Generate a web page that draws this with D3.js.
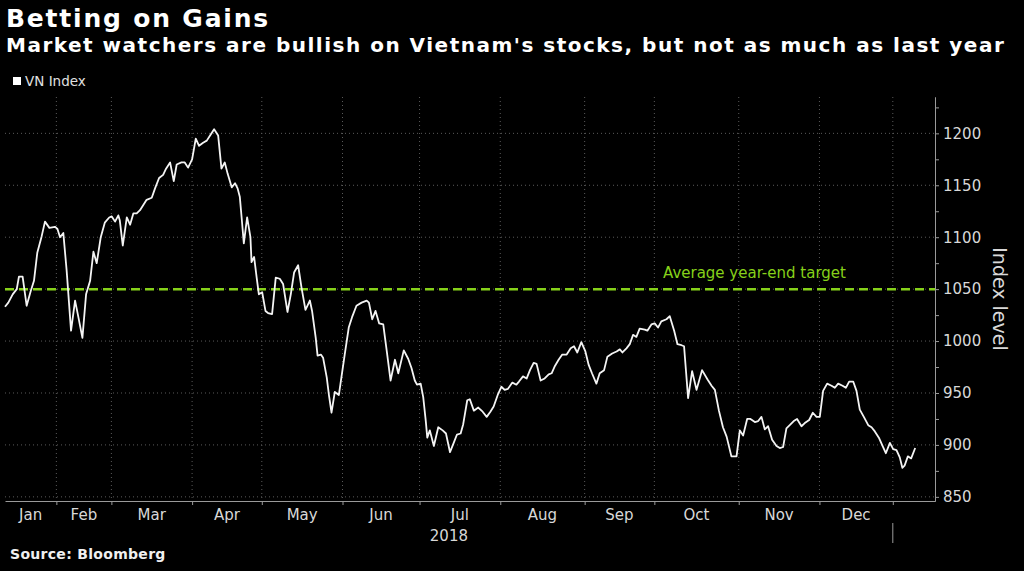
<!DOCTYPE html>
<html>
<head>
<meta charset="utf-8">
<script src="https://cdn.jsdelivr.net/npm/d3@7"></script>
<style>
  html, body { margin: 0; padding: 0; background: #000; }
  svg { display: block; font-family: "DejaVu Sans", sans-serif; }
  .axis path, .axis line { stroke: #9a9a9a; }
  .axis text { fill: #d8d8d8; }
</style>
</head>
<body>
<script>
// consts / global variables
const w = 1024;
const h = 571;

// x is in trading days since the first point (mid Jan 2018)
const monthNames = ["Jan", "Feb", "Mar", "Apr", "May", "Jun", "Jul", "Aug", "Sep", "Oct", "Nov", "Dec"];
const monthEdges = [0, 14, 29, 51, 70, 92, 113, 135, 158, 177, 200, 222, 242];
const yearLabel = "2018";

const yTicks = [850, 900, 950, 1000, 1050, 1100, 1150, 1200];
const yMinorTicks = [875, 925, 975, 1025, 1075, 1125, 1175, 1225];
const target = 1050;

// VN Index
const days = [0, 0.9, 2.1, 3.2, 3.8, 4.8, 5.9, 7.0, 7.9, 8.8, 10.0, 10.9, 12.1, 13.6, 14.3, 15.0, 15.9, 16.8, 18.0, 19.1,
  20.0, 21.1, 22.1, 23.2, 24.1, 25.0, 26.1, 27.2, 28.4, 29.1, 30.0, 30.9, 31.3, 32.1, 33.2, 34.1, 35.0, 35.9, 36.8, 37.7,
  38.6, 40.0, 40.9, 42.0, 43.1, 43.9, 45.0, 46.0, 46.8, 48.1, 49.0, 49.9, 51.0, 52.0, 52.9, 54.0, 55.0, 55.9, 57.0, 58.1,
  59.0, 59.9, 60.7, 61.8, 62.7, 63.4, 64.0, 64.5, 65.1, 66.0, 66.9, 67.2, 67.9, 68.6, 69.2, 70.1, 71.0, 71.7, 72.8, 73.8,
  74.9, 75.8, 77.0, 77.9, 78.8, 79.9, 80.8, 81.9, 83.1, 83.7, 84.7, 85.2, 86.1, 86.7, 87.7, 88.3, 89.0, 89.9, 91.0, 91.7,
  92.6, 93.7, 94.6, 95.8, 97.2, 98.6, 99.2, 100.1, 101.0, 102.0, 103.1, 104.0, 105.1, 106.3, 107.2, 108.7, 109.9, 110.8, 111.7, 112.3,
  113.3, 114.0, 114.7, 115.1, 115.8, 116.9, 118.1, 119.3, 120.2, 121.3, 122.2, 123.2, 124.2, 124.9, 126.0, 126.7, 127.8, 129.0, 130.2, 131.3,
  132.3, 133.2, 134.4, 135.3, 136.2, 137.1, 138.3, 139.4, 140.1, 141.2, 142.2, 143.1, 144.1, 144.9, 146.0, 147.1, 148.2, 149.0, 149.9, 150.9,
  151.9, 153.1, 154.2, 155.1, 156.0, 157.1, 158.2, 159.1, 160.0, 161.2, 162.1, 163.3, 164.2, 165.5, 166.7, 167.6, 168.3, 169.4, 170.3, 171.2,
  172.1, 173.0, 174.4, 175.1, 176.2, 177.1, 178.0, 178.9, 180.3, 181.2, 182.4, 183.3, 184.4, 185.1, 186.2, 187.3, 188.5, 190.0, 191.5, 192.6,
  193.5, 194.6, 195.7, 196.7, 198.0, 199.4, 200.3, 201.2, 202.3, 203.2, 204.4, 205.3, 206.2, 207.1, 208.0, 209.1, 210.3, 211.2, 212.1, 213.0,
  213.9, 215.0, 215.9, 217.1, 218.0, 219.2, 220.2, 221.2, 222.1, 223.0, 224.1, 225.3, 226.2, 227.1, 228.3, 229.2, 230.1, 231.2, 232.1, 233.0,
  234.1, 235.3, 236.2, 237.1, 238.2, 239.2, 240.1, 241.2, 242.1, 243.0, 243.9, 244.6, 245.2, 246.1, 247.0, 248.1];
const values = [1033, 1037, 1045, 1050, 1062, 1062, 1034, 1048, 1058, 1085, 1101, 1115, 1109, 1110, 1108, 1100, 1104, 1068, 1010, 1039,
  1023, 1003, 1045, 1058, 1086, 1075, 1100, 1114, 1119, 1120, 1115, 1121, 1116, 1092, 1119, 1112, 1123, 1123, 1126, 1131,
  1136, 1138, 1147, 1157, 1160, 1166, 1172, 1154, 1170, 1172, 1172, 1167, 1175, 1195, 1188, 1191, 1193, 1198, 1204, 1198,
  1166, 1172, 1161, 1148, 1152, 1147, 1139, 1119, 1094, 1119, 1100, 1076, 1081, 1061, 1045, 1047, 1029, 1027, 1026, 1061,
  1060, 1055, 1028, 1045, 1066, 1073, 1052, 1030, 1039, 1029, 1003, 986, 987, 984, 965, 948, 931, 951, 948, 965,
  987, 1013, 1023, 1034, 1037, 1039, 1037, 1021, 1029, 1017, 1016, 992, 962, 982, 969, 991, 983, 974, 962, 958,
  959, 946, 923, 907, 914, 899, 917, 914, 911, 893, 901, 910, 911, 920, 943, 944, 933, 936, 932, 927,
  932, 937, 949, 956, 953, 954, 960, 958, 961, 966, 964, 972, 979, 978, 962, 964, 968, 969, 976, 982,
  987, 987, 993, 995, 989, 999, 990, 977, 969, 959, 969, 972, 985, 988, 990, 992, 989, 993, 997, 1006,
  1004, 1012, 1011, 1010, 1016, 1017, 1013, 1019, 1021, 1024, 1010, 997, 996, 995, 945, 971, 953, 972, 963, 957,
  953, 933, 917, 908, 889, 889, 914, 909, 925, 925, 922, 923, 927, 915, 918, 905, 899, 897, 898, 916,
  919, 923, 925, 918, 921, 924, 931, 927, 927, 952, 959, 957, 955, 959, 957, 955, 961, 961, 952, 934,
  927, 919, 917, 913, 907, 899, 892, 902, 896, 895, 888, 878, 880, 889, 887, 897];

const data = days.map((d, i) => ({ day: d, v: values[i] }));

// scales
const xScale = d3.scaleLinear()
                 .domain([0, 253.5])
                 .range([5, 935]);

const yScale = d3.scaleLinear()
                 .domain([846, 1235])
                 .range([501, 97]);

// SVG
const svg = d3.select("body")
        .append("svg")
        .attr("width", w)
        .attr("height", h);

svg.append("rect")
   .attr("width", w)
   .attr("height", h)
   .attr("fill", "#000");

// titles
svg.append("text")
   .attr("x", 6).attr("y", 27)
   .attr("fill", "#fff")
   .style("font-size", "25px")
   .style("font-weight", "bold")
   .style("letter-spacing", "1.8px")
   .text("Betting on Gains");

svg.append("text")
   .attr("x", 6).attr("y", 52)
   .attr("fill", "#fff")
   .style("font-size", "20px")
   .style("font-weight", "bold")
   .style("letter-spacing", "1.5px")
   .text("Market watchers are bullish on Vietnam's stocks, but not as much as last year");

// legend
svg.append("rect")
   .attr("x", 13).attr("y", 77)
   .attr("width", 8).attr("height", 8)
   .attr("fill", "#fff");

svg.append("text")
   .attr("x", 25).attr("y", 86)
   .attr("fill", "#e0e0e0")
   .style("font-size", "13.5px")
   .text("VN Index");

// grid
svg.append("g")
   .selectAll("line")
   .data(yTicks)
   .join("line")
   .attr("x1", xScale(0)).attr("x2", xScale(253.5))
   .attr("y1", d => yScale(d)).attr("y2", d => yScale(d))
   .attr("stroke", "#5a5a5a")
   .attr("stroke-dasharray", "1,3");

svg.append("g")
   .selectAll("line")
   .data(monthEdges.slice(1))
   .join("line")
   .attr("x1", d => xScale(d)).attr("x2", d => xScale(d))
   .attr("y1", yScale(1235)).attr("y2", yScale(846))
   .attr("stroke", "#5a5a5a")
   .attr("stroke-dasharray", "1,3");

// target line
svg.append("line")
   .attr("x1", xScale(0)).attr("x2", xScale(253.5))
   .attr("y1", yScale(target)).attr("y2", yScale(target))
   .attr("stroke", "#86d11a")
   .attr("stroke-width", 2.5)
   .attr("stroke-dasharray", "9,5");

svg.append("text")
   .attr("x", 663).attr("y", 278)
   .attr("fill", "#86d11a")
   .style("font-size", "15px")
   .text("Average year-end target");

// line generator
const line = d3.line()
               .x(d => xScale(d.day))
               .y(d => yScale(d.v));

svg.append("path")
   .datum(data)
   .attr("d", line)
   .attr("fill", "none")
   .attr("stroke", "#f4f4f4")
   .attr("stroke-width", 1.8)
   .attr("stroke-linejoin", "round");

// axes
const rightAxis = d3.axisRight(yScale)
                    .tickValues(yTicks)
                    .tickSize(4)
                    .tickSizeOuter(0)
                    .tickPadding(4)
                    .tickFormat(d3.format("d"));

const rightMinor = d3.axisRight(yScale)
                     .tickValues(yMinorTicks)
                     .tickSize(4)
                     .tickSizeOuter(0)
                     .tickFormat("");

svg.append("g")
   .attr("class", "axis")
   .attr("transform", "translate(" + xScale(253.5) + ",0)")
   .call(rightMinor);

svg.append("g")
   .attr("class", "axis")
   .attr("transform", "translate(" + xScale(253.5) + ",0)")
   .call(rightAxis)
   .selectAll("text")
   .style("font-size", "15px")
   .style("font-family", "DejaVu Sans");

const bottomAxis = d3.axisBottom(xScale)
                     .tickValues(monthEdges.slice(1))
                     .tickSize(4)
                     .tickSizeOuter(0)
                     .tickFormat("");

svg.append("g")
   .attr("class", "axis")
   .attr("transform", "translate(0," + yScale(846) + ")")
   .call(bottomAxis);

// month labels between month edges
svg.append("g")
   .selectAll("text")
   .data(monthNames)
   .join("text")
   .attr("x", (d, i) => xScale((monthEdges[i] + monthEdges[i + 1]) / 2))
   .attr("y", 520)
   .attr("text-anchor", "middle")
   .attr("fill", "#d8d8d8")
   .style("font-size", "15px")
   .text(d => d);

svg.append("text")
   .attr("x", xScale((monthEdges[0] + monthEdges[12]) / 2))
   .attr("y", 541)
   .attr("text-anchor", "middle")
   .attr("fill", "#d8d8d8")
   .style("font-size", "15px")
   .text(yearLabel);

// year separator
svg.append("line")
   .attr("x1", xScale(monthEdges[12])).attr("x2", xScale(monthEdges[12]))
   .attr("y1", 523).attr("y2", 543)
   .attr("stroke", "#9a9a9a");

// y axis title
svg.append("text")
   .attr("transform", "translate(993,299) rotate(90)")
   .attr("text-anchor", "middle")
   .attr("fill", "#d8d8d8")
   .style("font-size", "19px")
   .text("Index level");

// source
svg.append("text")
   .attr("x", 10).attr("y", 559)
   .attr("fill", "#f0f0f0")
   .style("font-size", "14px")
   .style("font-weight", "bold")
   .style("letter-spacing", "0.3px")
   .text("Source: Bloomberg");
</script>
</body>
</html>
